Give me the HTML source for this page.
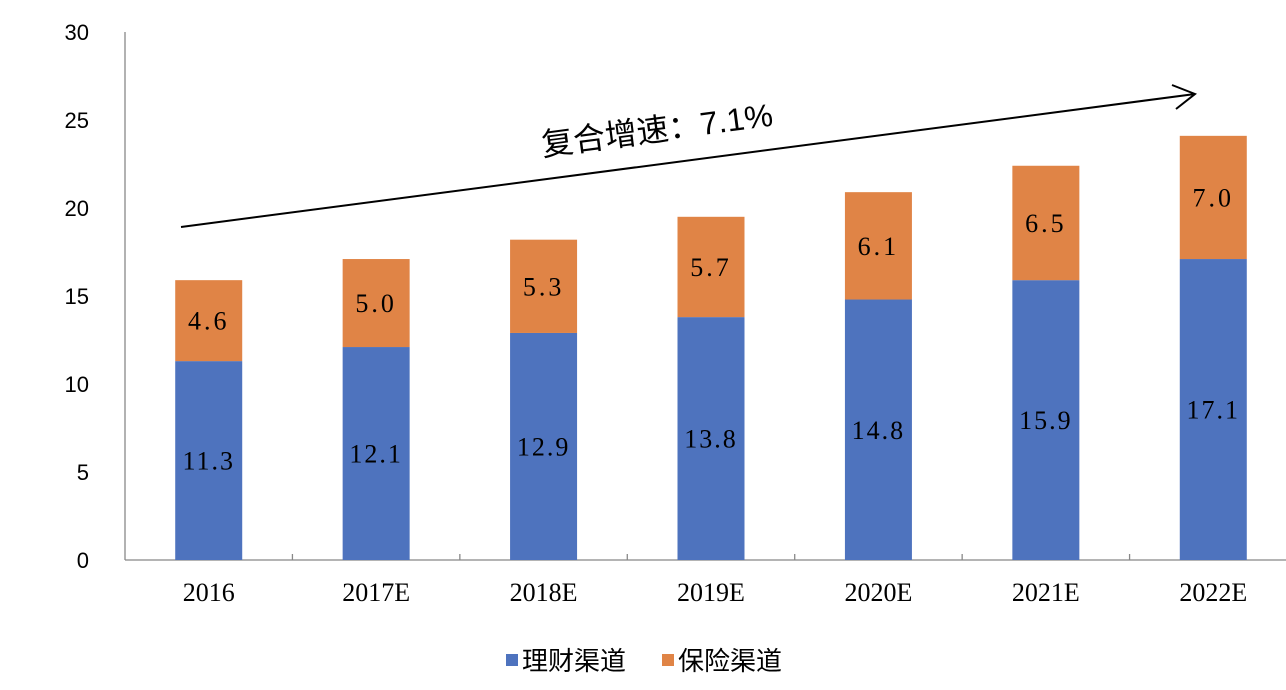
<!DOCTYPE html>
<html><head><meta charset="utf-8"><style>
html,body{margin:0;padding:0;background:#fff;width:1286px;height:690px;overflow:hidden}
</style></head><body>
<svg id="chart" width="1286" height="690" xmlns="http://www.w3.org/2000/svg"></svg>
<script>
const categories=["2016","2017E","2018E","2019E","2020E","2021E","2022E"];
const wealthValues=[11.3,12.1,12.9,13.8,14.8,15.9,17.1];
const insuranceValues=[4.6,5.0,5.3,5.7,6.1,6.5,7.0];
const yTicks=[0,5,10,15,20,25,30];
const seriesNames=["理财渠道","保险渠道"];
const NS="http://www.w3.org/2000/svg";
const svg=document.getElementById('chart');
const x0=125,plotW=1172,y0=560,pxPerUnit=17.6,barW=67;
const catW=plotW/categories.length;
const yS=v=>y0-v*pxPerUnit;
const xC=i=>x0+catW*(i+0.5);
function mk(tag,attrs,text){const e=document.createElementNS(NS,tag);for(const k in attrs)e.setAttribute(k,attrs[k]);if(text!==undefined)e.textContent=text;svg.appendChild(e);return e;}
const serif='"Liberation Serif","Noto Serif CJK SC",serif';
const sans='"Liberation Sans","Noto Sans CJK SC",sans-serif';
let a=mk('line',{x1:x0,y1:yS(30),x2:x0,y2:y0,stroke:'#888','stroke-width':1.3});


a=mk('line',{x1:x0,y1:y0,x2:1286,y2:y0,stroke:'#888','stroke-width':1.3});


yTicks.forEach(t=>{
  const l=mk('text',{x:x0-36,y:yS(t)+8,'text-anchor':'end','font-family':sans,'font-size':22,fill:'#000'},String(t));
  
  
});
categories.forEach((c,i)=>{
  if(i>0){const t=mk('line',{x1:x0+catW*i,y1:y0-6,x2:x0+catW*i,y2:y0,stroke:'#888','stroke-width':1.3});
  
  }
  const cx=xC(i);
  const w=wealthValues[i],s=insuranceValues[i];
  const b1=mk('rect',{x:cx-barW/2,y:yS(w),width:barW,height:w*pxPerUnit,fill:'#4E73BE'});
  
  
  const b2=mk('rect',{x:cx-barW/2,y:yS(w+s),width:barW,height:s*pxPerUnit,fill:'#E08446'});
  
  
  const l1=mk('text',{x:cx,y:yS(w/2)+9,'text-anchor':'middle','font-family':serif,'font-size':26,fill:'#000','letter-spacing':2},w.toFixed(1));
  
  
  const l2=mk('text',{x:cx,y:yS(w+s/2)+9,'text-anchor':'middle','font-family':serif,'font-size':26,fill:'#000','letter-spacing':3},s.toFixed(1));
  
  
  const xl=mk('text',{x:cx,y:601,'text-anchor':'middle','font-family':serif,'font-size':26,fill:'#000'},c);
  
  
});
let ar=mk('line',{x1:181,y1:227,x2:1195,y2:94,stroke:'#000','stroke-width':2});


ar=mk('polyline',{points:'1172,85 1195,94 1176,109',fill:'none',stroke:'#000','stroke-width':2});


const gt=mk('text',{x:0,y:0,'font-family':sans,'font-size':32,fill:'#000',transform:'translate(543,156) rotate(-7.5)'},'复合增速：7.1%');


const cols=['#4E73BE','#E08446'];const lx=[506,662];
seriesNames.forEach((n,i)=>{
  const r=mk('rect',{x:lx[i],y:654,width:12,height:12,fill:cols[i]});
  
  
  const t=mk('text',{x:lx[i]+16,y:670,'font-family':sans,'font-size':26,fill:'#000'},n);
  
  
});
</script>
</body></html>
